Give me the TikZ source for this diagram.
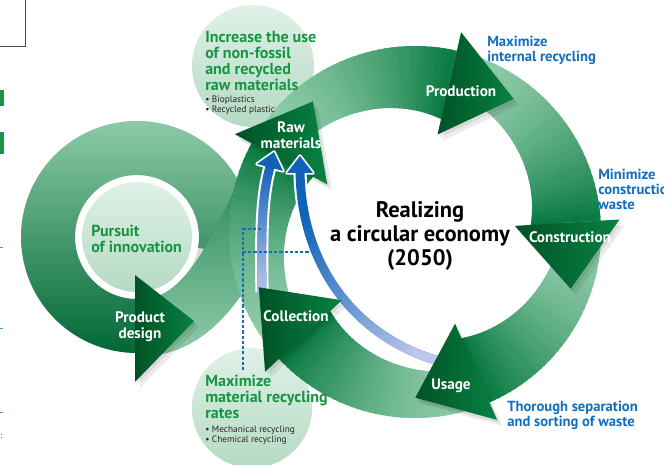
\documentclass[tikz,border=0pt]{standalone}
\usepackage{fontspec}
\setmainfont{PT Sans}
\usetikzlibrary{fadings}

\definecolor{mint}{RGB}{146,206,172}
\definecolor{bandhead}{RGB}{10,122,66}
\definecolor{ringdark}{RGB}{0,104,52}
\definecolor{bdark}{RGB}{22,122,72}
\definecolor{arrdark}{RGB}{0,82,38}
\definecolor{arrlight}{RGB}{8,130,66}
\definecolor{circlight}{RGB}{224,241,231}
\definecolor{circdark}{RGB}{180,218,195}
\definecolor{headgreen}{RGB}{24,148,68}
\definecolor{labelblue}{RGB}{18,110,190}
\definecolor{arrowblue}{RGB}{16,98,184}
\definecolor{lavender}{RGB}{190,199,235}

\begin{document}
\begin{tikzpicture}[x=0.025cm,y=0.025cm,
    lbl/.style={text=white,font=\bfseries\fontsize{10.8}{11.3}\selectfont,align=center,inner sep=0pt},
    heading/.style={text=headgreen,font=\bfseries\fontsize{11.4}{11.4}\selectfont,align=left,anchor=west,inner sep=0pt},
    bullets/.style={text=black!85,font=\fontsize{6.6}{7.1}\selectfont,align=left,anchor=west,inner sep=0pt},
    note/.style={text=labelblue,font=\bfseries\fontsize{10.4}{10.6}\selectfont,align=left,anchor=west,inner sep=0pt},
    arrowhead/.style={left color=arrdark,right color=arrlight},
    softshadow/.style={black,opacity=0.08},
    bluebody/.style={line width=6.4pt},
    dashline/.style={labelblue,line width=1pt,dash pattern=on 2.2pt off 1.5pt}]
\useasboundingbox (0,0) rectangle (664,-465);

% clipped bits of the page on the left
\draw[black!70,line width=0.7pt] (0,-46) -- (25,-46) -- (25,0);
\fill[headgreen] (0,-90) rectangle (4,-106);
\fill[headgreen] (0,-132) rectangle (4,-154);
\foreach \y in {247,328,412}
  \draw[teal!70,line width=0.7pt] (0,-\y) -- (3,-\y);
\node[font=\fontsize{6}{7}\selectfont,inner sep=0pt] (colon) at (1.5,-436) {:};

% light circles
\shade[top color=circlight,bottom color=circdark] (253,-66) circle[radius=61];
\shade[top color=circlight,bottom color=circdark] (252,-408) circle[radius=60];
\coordinate (L) at (137,-237);
\shade[top color=circlight,bottom color=circdark] (L) circle[radius=55];

% left loop
\foreach \s in {2,5}
  \fill[softshadow,even odd rule,shift={(\s,-\s-1)}] (L) circle[radius=116] (L) circle[radius=62];
\shade[top color=mint,bottom color=ringdark] ([shift={(L)}]-10:116) arc[start angle=-10,end angle=270,radius=116]
  -- ([shift={(L)}]270:62) arc[start angle=270,end angle=-10,radius=62] -- cycle;
\coordinate (pdB) at (140,-328);
\coordinate (rawB) at (281,-160);
\draw[line width=40pt,bdark] (pdB) .. controls (215,-328) and (245,-225) .. (rawB);
\draw[line width=40pt,mint,path fading=north] (pdB) .. controls (215,-328) and (245,-225) .. (rawB);

% big loop, sliced to get the colour run
\coordinate (C) at (415,-232);
\foreach \s in {2,5}
  \fill[softshadow,even odd rule,shift={(\s,-\s-1)}] (C) circle[radius=186] (C) circle[radius=146];
\foreach \ta/\tb in {223/151.5,151.5/77,77/3.5,3.5/-66.4,-66.4/-137}{
  \foreach \i in {0,...,35}{
    \pgfmathsetmacro\aa{\ta+(\tb-\ta)*\i/36}
    \pgfmathsetmacro\ab{\ta+(\tb-\ta)*(\i+1.5)/36}
    \pgfmathsetmacro\ra{148-32*\i/36}
    \pgfmathsetmacro\rb{148-32*(\i+1.5)/36}
    \pgfmathtruncatemacro\pc{100*(\i/35)^1.6}
    \fill[bandhead!\pc!mint] ([shift={(C)}]\aa:186) -- ([shift={(C)}]\ab:186)
      -- ([shift={(C)}]\ab:\rb) -- ([shift={(C)}]\aa:\ra) -- cycle;
  }
}

% raw materials head
\foreach \s in {2,5}
  \fill[softshadow,shift={(\s,-\s-1)}] ([shift={(C)}]151.5:100) -- ([shift={(C)}]151.5:205) -- ([shift={(C)}]128:165.7) -- cycle;
\shade[arrowhead] ([shift={(C)}]151.5:100) -- ([shift={(C)}]151.5:205) -- ([shift={(C)}]128:165.7) -- cycle;

% blue arrows
\coordinate (colL) at (262,-292);
\coordinate (rawL) at (270,-167);
\coordinate (useR) at (447,-363);
\coordinate (rawR) at (300,-172);
\draw[white,line width=9.4pt] (colL) .. controls (261,-230) and (262,-195) .. (rawL);
\draw[white,line width=9.4pt] (useR) .. controls (370,-345) and (302,-280) .. (rawR);
\filldraw[white,line width=2.4pt,line join=round] (274,-152) -- (283,-171) -- (257,-164) -- cycle;
\filldraw[white,line width=2.4pt,line join=round] (300,-156) -- (313,-173) -- (287,-173) -- cycle;
\draw[arrowblue,bluebody] (colL) .. controls (261,-230) and (262,-195) .. (rawL);
\draw[lavender,bluebody,path fading=north] (colL) .. controls (261,-230) and (262,-195) .. (rawL);
\draw[arrowblue,bluebody] (useR) .. controls (370,-345) and (302,-280) .. (rawR);
\draw[lavender,bluebody,path fading=north,fading angle=45] (useR) .. controls (370,-345) and (302,-280) .. (rawR);
\fill[arrowblue] (274,-152) -- (283,-171) -- (257,-164) -- cycle;
\fill[arrowblue] (300,-156) -- (313,-173) -- (287,-173) -- cycle;

% other heads
\foreach \a in {77,3.5,-66.4,-137}{
  \pgfmathsetmacro\tip{\a-23.5}
  \foreach \s in {2,5}
    \fill[softshadow,shift={(\s,-\s-1)}] ([shift={(C)}]\a:100) -- ([shift={(C)}]\a:205) -- ([shift={(C)}]\tip:165.7) -- cycle;
  \shade[arrowhead] ([shift={(C)}]\a:100) -- ([shift={(C)}]\a:205) -- ([shift={(C)}]\tip:165.7) -- cycle;
}
\foreach \s in {2,5}
  \fill[softshadow,shift={(\s,-\s-1)}] (135,-275) -- (194,-321) -- (135,-382) -- cycle;
\shade[arrowhead] (135,-275) -- (194,-321) -- (135,-382) -- cycle;

% dashed links
\coordinate (dashT) at (243,-229);
\coordinate (dashB) at (243,-370);
\coordinate (dashM) at (243,-252);
\coordinate (dashL) at (262,-229);
\coordinate (dashR) at (312,-252);
\draw[dashline] (dashB) -- (dashT) -- (dashL);
\draw[dashline] (dashM) -- (dashR);

% labels
\node[lbl] (raw) at (291,-135) {Raw\\materials};
\node[lbl] (prod) at (461,-91) {Production};
\node[lbl] (constr) at (570,-237) {Construction};
\node[lbl] (usage) at (451,-386) {Usage};
\node[lbl] (coll) at (296,-316) {Collection};
\node[lbl] (design) at (140,-327) {Product\\design};
\node[align=center,font=\bfseries\fontsize{16}{17}\selectfont,inner sep=0pt] (title) at (420,-236)
  {Realizing\\a circular economy\\(2050)};

\node[heading] (increase) at (205,-61) {Increase the use\\of non-fossil\\and recycled\\raw materials};
\node[bullets] (incnote) at (205,-105) {• Bioplastics\\• Recycled plastic};
\node[heading] (maxrate) at (205,-397) {Maximize\\material recycling\\rates};
\node[bullets] (ratenote) at (205,-435.5) {• Mechanical recycling\\• Chemical recycling};
\node[heading] (pursuit) at (91,-239) {Pursuit\\of innovation};

\node[note] (internal) at (487,-50) {Maximize\\internal recycling};
\node[note] (waste) at (598,-189.5) {Minimize\\construction\\waste};
\node[note] (sorting) at (507,-415.5) {Thorough separation\\and sorting of waste};
\end{tikzpicture}
\end{document}
